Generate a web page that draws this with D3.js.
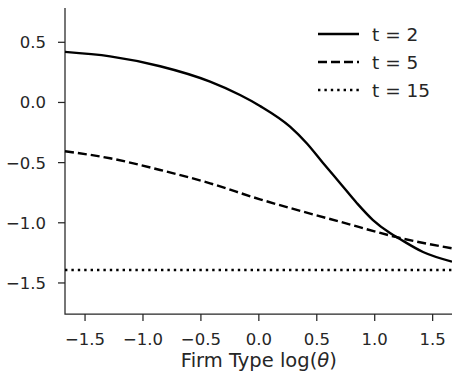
<!DOCTYPE html>
<html>
<head>
<meta charset="utf-8">
<script src="https://cdn.jsdelivr.net/npm/d3@7"></script>
<style>
  body { margin: 0; background: #fff; overflow: hidden; }
  svg { display: block; }
</style>
</head>
<body>
<svg width="452" height="375"></svg>
<script>
const svg = d3.select('svg');

// values
const xs = [-1.673, -1.284, -0.852, -0.421, -0.162, 0.010, 0.269, 0.413, 0.554, 0.700, 0.845, 0.985, 1.132, 1.218, 1.417, 1.667];
const solidY = [0.420, 0.383, 0.301, 0.173, 0.062, -0.029, -0.201, -0.339, -0.503, -0.669, -0.835, -0.977, -1.085, -1.135, -1.243, -1.323];
const dashX = [-1.673, -1.284, -0.852, -0.421, 0.010, 0.269, 0.700, 1.218, 1.667];
const dashY = [-0.405, -0.464, -0.561, -0.672, -0.805, -0.877, -0.991, -1.126, -1.212];
const dotX = [-1.673, 0, 1.667];
const dotY = [-1.392, -1.392, -1.392];
const xTicks = [-1.5, -1.0, -0.5, 0.0, 0.5, 1.0, 1.5];
const yTicks = [0.5, 0.0, -0.5, -1.0, -1.5];
const labels = ['t = 2', 't = 5', 't = 15'];
const dashes = [null, '9,4', '2.4,4'];

const series = [
    xs.map((x, i) => ({x: x, y: solidY[i]})),
    dashX.map((x, i) => ({x: x, y: dashY[i]})),
    dotX.map((x, i) => ({x: x, y: dotY[i]}))
];

const margin = {top: 8, right: 0, bottom: 61, left: 65};
const width = 452, height = 375;

// scales in page pixels, so no nested transforms are needed
const xScale = d3.scaleLinear().domain([-1.673, 1.667]).range([margin.left, width - margin.right]);
const yScale = d3.scaleLinear().domain([-1.758, 0.785]).range([height - margin.bottom, margin.top]);
const x0 = margin.left, y0 = height - margin.bottom;

const fmt = d => d3.format('.1f')(d).replace('-', '\u2212');
const font = '"DejaVu Sans", sans-serif';
const ink = '#262626';

// spines
svg.append('path')
    .attr('d', `M${x0},${margin.top}V${y0}H${width - margin.right}`)
    .attr('fill', 'none').attr('stroke', ink).attr('stroke-width', 1.25);

// x ticks
svg.selectAll('.xtick').data(xTicks).enter().append('line')
    .attr('class', 'xtick')
    .attr('x1', d => xScale(d)).attr('x2', d => xScale(d))
    .attr('y1', y0).attr('y2', y0 + 7)
    .attr('stroke', ink).attr('stroke-width', 1.25);
svg.selectAll('.xlab').data(xTicks).enter().append('text')
    .attr('class', 'xlab')
    .attr('x', d => xScale(d)).attr('y', y0 + 31)
    .attr('text-anchor', 'middle')
    .attr('font-family', font).attr('font-size', 16.5).attr('fill', ink)
    .text(fmt);

// y ticks
svg.selectAll('.ytick').data(yTicks).enter().append('line')
    .attr('class', 'ytick')
    .attr('x1', x0 - 7).attr('x2', x0)
    .attr('y1', d => yScale(d)).attr('y2', d => yScale(d))
    .attr('stroke', ink).attr('stroke-width', 1.25);
svg.selectAll('.ylab').data(yTicks).enter().append('text')
    .attr('class', 'ylab')
    .attr('x', x0 - 19).attr('y', d => yScale(d) + 6)
    .attr('text-anchor', 'end')
    .attr('font-family', font).attr('font-size', 16.5).attr('fill', ink)
    .text(fmt);

const label = svg.append('text')
    .attr('x', xScale(0))
    .attr('y', y0 + 53)
    .attr('text-anchor', 'middle')
    .attr('font-family', font)
    .attr('font-size', 19.5)
    .attr('fill', ink);
label.append('tspan').text('Firm Type log(');
label.append('tspan').attr('font-style', 'italic').text('\u03b8');
label.append('tspan').text(')');

const line = d3.line()
    .x(d => xScale(d.x))
    .y(d => yScale(d.y))
    .curve(d3.curveMonotoneX);

series.forEach((s, i) => {
    svg.append('path')
        .datum(s)
        .attr('fill', 'none')
        .attr('stroke', '#000')
        .attr('stroke-width', 2.4)
        .attr('stroke-dasharray', dashes[i])
        .attr('d', line);
});

labels.forEach((t, i) => {
    const ly = 34 + i * 28;
    svg.append('line')
        .attr('x1', 318).attr('x2', 359)
        .attr('y1', ly).attr('y2', ly)
        .attr('stroke', '#000').attr('stroke-width', 2.4)
        .attr('stroke-dasharray', dashes[i]);
    svg.append('text')
        .attr('x', 372).attr('y', ly + 7)
        .attr('font-family', font)
        .attr('font-size', 18.5)
        .attr('fill', ink)
        .text(t);
});
</script>
</body>
</html>
